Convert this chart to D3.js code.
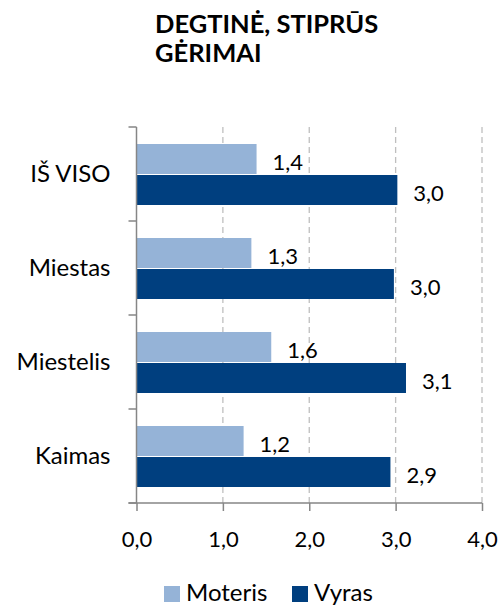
<!DOCTYPE html>
<html>
  <head>
    <meta charset="utf-8" />
    <script src="https://d3js.org/d3.v7.min.js"></script>
    <style>
      body { margin: 0; background: #fff; }
      text { font-family: Lato, "Open Sans", sans-serif; fill: #000; }
    </style>
  </head>
  <body>
    <svg width="501" height="606"></svg>

    <script type="text/javascript">
      var categories = ["IŠ VISO", "Miestas", "Miestelis", "Kaimas"];
      var seriesNames = ["Moteris", "Vyras"];
      var moteris = [1.39, 1.33, 1.56, 1.24];
      var vyras = [3.02, 2.98, 3.12, 2.94];
      var xTicks = [0, 1, 2, 3, 4];
      var titleLines = ["DEGTINĖ, STIPRŪS", "GĖRIMAI"];

      var colors = ["#95b3d7", "#003f7f"];
      var svg = d3.select("svg");
      var fmt = function (d) { return d3.format(".1f")(d).replace(".", ","); };

      var data = categories.map(function (c, i) {
        return { cat: c, values: [moteris[i], vyras[i]] };
      });

      // title
      svg.append("text")
        .attr("x", 155)
        .attr("y", 33)
        .style("font-size", "25.5px")
        .style("font-weight", "bold")
        .selectAll("tspan")
        .data(titleLines)
        .enter()
        .append("tspan")
        .attr("x", 155)
        .attr("dy", function (d, i) { return i == 0 ? 0 : 29; })
        .text(function (d) { return d; });

      var x = d3.scaleLinear().domain([0, 4]).range([136.5, 482]);
      var y = d3.scaleBand().domain(categories).range([127, 503]);
      var inner = d3.scaleBand().domain(seriesNames)
        .range([17, y.bandwidth() - 15]);

      // dashed grid lines
      svg.append("g")
        .selectAll("line")
        .data(xTicks.slice(1))
        .enter()
        .append("line")
        .attr("x1", function (d) { return x(d); })
        .attr("x2", function (d) { return x(d); })
        .attr("y1", 127)
        .attr("y2", 503)
        .style("stroke", "#bfbfbf")
        .style("stroke-width", 1.3)
        .style("stroke-dasharray", "6,4");

      // bars
      var groups = svg.append("g")
        .selectAll("g")
        .data(data)
        .enter()
        .append("g")
        .attr("transform", function (d) { return "translate(0," + y(d.cat) + ")"; });

      groups.selectAll("rect")
        .data(function (d) { return d.values; })
        .enter()
        .append("rect")
        .attr("x", x(0))
        .attr("y", function (d, i) { return inner(seriesNames[i]); })
        .attr("width", function (d) { return x(d) - x(0); })
        .attr("height", inner.bandwidth() - 1)
        .attr("fill", function (d, i) { return colors[i]; });

      groups.selectAll("text")
        .data(function (d) { return d.values; })
        .enter()
        .append("text")
        .attr("x", function (d) { return x(d) + 16; })
        .attr("y", function (d, i) { return inner(seriesNames[i]) + inner.bandwidth() / 2 + 2; })
        .attr("dominant-baseline", "central")
        .style("font-size", "22px")
        .text(fmt);

      // x axis
      var xAxis = svg.append("g")
        .attr("transform", "translate(0,503)")
        .call(d3.axisBottom(x).tickValues(xTicks).tickSize(8).tickPadding(20).tickFormat(fmt));
      xAxis.select(".domain").attr("d", "M" + (x(0) - 8) + ",0H" + x(4))
        .style("stroke", "#868686").style("stroke-width", 1.5);
      xAxis.selectAll(".tick line").style("stroke", "#868686").style("stroke-width", 1.5);
      xAxis.selectAll(".tick text").style("font-size", "22px").style("font-family", "Lato, sans-serif");

      // y axis
      var yAxis = svg.append("g")
        .attr("transform", "translate(" + x(0) + ",0)")
        .call(d3.axisLeft(y).tickSize(0).tickPadding(26));
      yAxis.select(".domain").remove();
      yAxis.append("line")
        .attr("x1", 0).attr("x2", 0).attr("y1", 127).attr("y2", 503)
        .style("stroke", "#868686").style("stroke-width", 1.5);
      yAxis.selectAll(".cattick")
        .data([127].concat(categories.map(function (c) { return y(c) + y.bandwidth(); })))
        .enter()
        .append("line")
        .attr("x1", -8).attr("x2", 0)
        .attr("y1", function (d) { return d; })
        .attr("y2", function (d) { return d; })
        .style("stroke", "#868686").style("stroke-width", 1.5);
      yAxis.selectAll(".tick text").style("font-size", "24px").style("font-family", "Lato, sans-serif");

      // legend
      var legend = svg.append("g")
        .selectAll("g")
        .data(seriesNames)
        .enter()
        .append("g")
        .attr("transform", function (d, i) { return "translate(" + [164, 292][i] + ",586)"; });
      legend.append("rect")
        .attr("width", 16).attr("height", 16)
        .attr("fill", function (d, i) { return colors[i]; });
      legend.append("text")
        .attr("x", 22).attr("y", 15)
        .style("font-size", "24px")
        .text(function (d) { return d; });
    </script>
  </body>
</html>
